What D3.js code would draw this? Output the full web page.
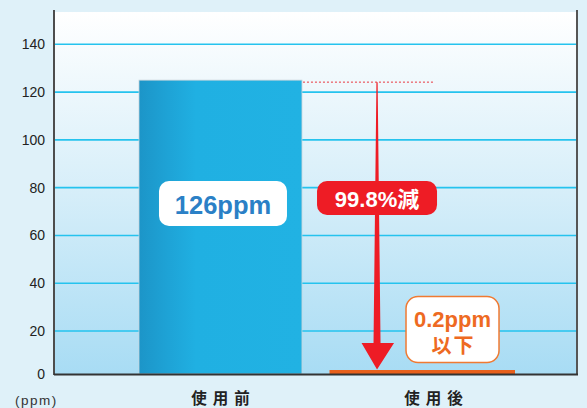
<!DOCTYPE html>
<html><head><meta charset="utf-8">
<script src="https://cdn.jsdelivr.net/npm/d3@7"></script>
<style>
html,body{margin:0;padding:0;background:#dff1f9;}
svg{display:block;}
</style></head>
<body>
<svg id="c" width="587" height="408"></svg>
<script>
const categories = ["使用前", "使用後"];
const values = [125, 0.2];
const valueLabels = ["126ppm", "0.2ppm"];
const afterNote = "以下";
const reductionLabel = "99.8%減";
const yTicks = [0, 20, 40, 60, 80, 100, 120, 140];
const unitLabel = "(ppm)";

(function () {
const svg = d3.select("#c");
const pLeft = 54, pRight = 577, pTop = 12, pBottom = 374;

const y = d3.scaleLinear().domain([0, 20, 140]).range([pBottom, 331, 44.3]);
const x = d3.scaleBand().domain(categories).range([139, 515]).paddingInner(0.235).paddingOuter(0);

const defs = svg.append("defs");
const bg = defs.append("linearGradient").attr("id", "bgGrad").attr("x1", 0).attr("y1", 0).attr("x2", 0).attr("y2", 1);
bg.append("stop").attr("offset", "0%").attr("stop-color", "#ffffff");
bg.append("stop").attr("offset", "50%").attr("stop-color", "#d6eef9");
bg.append("stop").attr("offset", "100%").attr("stop-color", "#a8dcf4");

const bar = defs.append("linearGradient").attr("id", "barGrad").attr("x1", 0).attr("y1", 0).attr("x2", 1).attr("y2", 0);
bar.append("stop").attr("offset", "0%").attr("stop-color", "#1c95c8");
bar.append("stop").attr("offset", "18%").attr("stop-color", "#1ea3d6");
bar.append("stop").attr("offset", "35%").attr("stop-color", "#20b0e2");
bar.append("stop").attr("offset", "100%").attr("stop-color", "#21b2e3");

svg.append("rect").attr("x", pLeft).attr("y", pTop).attr("width", pRight - pLeft).attr("height", pBottom - pTop)
  .attr("fill", "url(#bgGrad)");

svg.append("g").selectAll("line").data(yTicks.filter(d => d > 0)).join("line")
  .attr("x1", pLeft).attr("x2", pRight)
  .attr("y1", d => y(d)).attr("y2", d => y(d))
  .attr("stroke", "#25c3ee").attr("stroke-width", 1.6);

const g = svg.append("g");
g.append("rect")
  .attr("x", x(categories[0])).attr("y", y(values[0]))
  .attr("width", x.bandwidth()).attr("height", y(0) - y(values[0]))
  .attr("fill", "url(#barGrad)").attr("stroke", "#c5d3d9").attr("stroke-width", 0.8);
const afterX0 = x(categories[1]) - 22.5;
g.append("rect")
  .attr("x", afterX0).attr("y", Math.min(y(values[1]), pBottom - 4))
  .attr("width", x(categories[1]) + x.bandwidth() - afterX0)
  .attr("height", Math.max(4, y(0) - y(values[1])))
  .attr("fill", "#e8601c");

const yAxis = d3.axisLeft(y).tickValues(yTicks).tickSize(0).tickPadding(9);
const ya = svg.append("g").attr("transform", `translate(${pLeft},0)`).call(yAxis);
ya.select(".domain").remove();
ya.selectAll("text").attr("font-family", "Liberation Sans, Arial, sans-serif").attr("font-size", 14).attr("fill", "#222");

svg.append("line").attr("x1", pLeft).attr("x2", pLeft).attr("y1", 10).attr("y2", pBottom + 1)
  .attr("stroke", "#4d4d4d").attr("stroke-width", 2);
svg.append("line").attr("x1", pRight).attr("x2", pRight).attr("y1", 10).attr("y2", pBottom + 1)
  .attr("stroke", "#555").attr("stroke-width", 2);
svg.append("line").attr("x1", pLeft).attr("x2", pRight + 1).attr("y1", pBottom + 0.5).attr("y2", pBottom + 0.5)
  .attr("stroke", "#333").attr("stroke-width", 2);

const xAxis = d3.axisBottom(x).tickSize(0).tickPadding(0);
const xa = svg.append("g").attr("transform", `translate(0,${pBottom})`).call(xAxis);
xa.select(".domain").remove();
xa.selectAll("text").attr("dy", null).attr("y", 29.5)
  .attr("font-family", "Noto Sans CJK JP, sans-serif").attr("font-size", 15.5).attr("font-weight", 700)
  .attr("letter-spacing", 6).attr("fill", "#222")
  .attr("dx", 3);

svg.append("text").attr("x", 15).attr("y", 405).text(unitLabel)
  .attr("font-family", "Liberation Sans, Arial, sans-serif").attr("font-size", 13.5).attr("letter-spacing", 1.5).attr("fill", "#333");

const arrowX = x(categories[1]) + 25;
const topY = y(values[0]) + 2;
svg.append("line").attr("x1", x(categories[0]) + x.bandwidth() + 1).attr("x2", 433)
  .attr("y1", topY).attr("y2", topY)
  .attr("stroke", "#e8363d").attr("stroke-width", 1).attr("stroke-dasharray", "2,2");
const headTop = 343, tipY = 369.5;
svg.append("path")
  .attr("d", `M${arrowX - 0.6},${topY} L${arrowX + 0.6},${topY} L${arrowX + 3.5},${headTop} L${arrowX + 17},${headTop} L${arrowX},${tipY} L${arrowX - 15.5},${headTop} L${arrowX - 3.5},${headTop} Z`)
  .attr("fill", "#ee1c25");

const fontLatin = "Liberation Sans, Arial, sans-serif";
const c0 = x(categories[0]) + x.bandwidth() / 2 + 2.5;
svg.append("rect").attr("x", c0 - 64).attr("y", 181).attr("width", 128).attr("height", 45).attr("rx", 10)
  .attr("fill", "#ffffff");
svg.append("text").attr("x", c0).attr("y", 213.5).attr("text-anchor", "middle").text(valueLabels[0])
  .attr("font-family", fontLatin).attr("font-weight", 700).attr("font-size", 25.5).attr("fill", "#2b80c6");

svg.append("rect").attr("x", arrowX - 60).attr("y", 181).attr("width", 120).attr("height", 34).attr("rx", 10)
  .attr("fill", "#ee1c25");
const rt = svg.append("text").attr("x", arrowX).attr("y", 206.5).attr("text-anchor", "middle")
  .attr("font-weight", 700).attr("font-size", 22).attr("fill", "#ffffff");
rt.append("tspan").attr("font-family", fontLatin).text(reductionLabel.replace("減", ""));
rt.append("tspan").attr("font-family", "Noto Sans CJK JP, sans-serif").text("減");

const c1 = x(categories[1]) + x.bandwidth() / 2 + 19;
svg.append("rect").attr("x", c1 - 46.5).attr("y", 296.5).attr("width", 93).attr("height", 66).attr("rx", 12)
  .attr("fill", "#ffffff").attr("stroke", "#f07a32").attr("stroke-width", 1.5);
svg.append("text").attr("x", c1).attr("y", 326.5).attr("text-anchor", "middle").text(valueLabels[1])
  .attr("font-family", fontLatin).attr("font-weight", 700).attr("font-size", 22).attr("fill", "#ee6a22");
svg.append("text").attr("x", c1 + 1).attr("y", 353).attr("text-anchor", "middle").text(afterNote)
  .attr("font-family", "Noto Sans CJK JP, sans-serif").attr("font-weight", 700).attr("font-size", 20)
  .attr("letter-spacing", 2).attr("fill", "#ee6a22");
})();
</script>
</body></html>
